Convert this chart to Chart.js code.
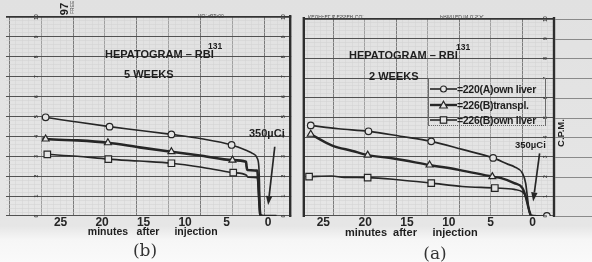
<!DOCTYPE html>
<html>
<head>
<meta charset="utf-8">
<script src="https://cdn.jsdelivr.net/npm/chart.js@4.4.1/dist/chart.umd.min.js"></script>
<style>
html,body{margin:0;padding:0;background:#fafafa;}
#page{position:relative;width:592px;height:262px;overflow:hidden;
  background:linear-gradient(#e1e1e1 0px,#e6e6e6 226px,#f6f6f6 240px,#fafafa 262px);
  font-family:"Liberation Sans",Arial,sans-serif;color:#1e1e1e;}
canvas{position:absolute;top:0;}
.t{position:absolute;white-space:nowrap;font-weight:bold;line-height:1;transform:translate(0,-50%);}
.c{position:absolute;white-space:nowrap;font-weight:bold;line-height:1;transform:translate(-50%,-50%);}
.tiny{position:absolute;white-space:nowrap;font-size:5px;color:#444;line-height:1;}
.cap{position:absolute;font-family:"DejaVu Serif","Liberation Serif",serif;font-size:17px;color:#333;transform:translate(-50%,-50%);line-height:1;}
#legend{position:absolute;left:428px;top:78px;width:116px;height:46px;border:1px solid #6a6a6a;border-bottom-style:dotted;}
#legend .row{position:absolute;left:1px;height:12px;display:flex;align-items:center;font-weight:bold;font-size:10.5px;letter-spacing:-0.3px;}
#legend svg{width:27px;height:10px;margin-right:0;}
</style>
</head>
<body>
<div id="page">
  <canvas id="left" width="297" height="240" style="left:0"></canvas>
  <canvas id="right" width="295" height="240" style="left:297px"></canvas>

  <div class="c" style="left:64px;top:9px;font-size:11px;transform:translate(-50%,-50%) rotate(-90deg)">97</div>
  <div class="tiny" style="left:70px;top:4px;transform:rotate(-90deg) translate(-10px,0);transform-origin:left top">FREE LEFT</div>
  <div class="tiny" style="left:198px;top:13px;transform:scaleY(-1)">NO. 422-00</div>
  <div class="tiny" style="left:308px;top:14px;transform:scaleY(-1)">KEUFFEL &amp; ESSER CO.</div>
  <div class="tiny" style="left:440px;top:14px;transform:scaleY(-1)">PRINTED IN U.S.A.</div>

  <div class="t" style="left:105px;top:54px;font-size:11px">HEPATOGRAM – RBI</div>
  <div class="t" style="left:208px;top:46px;font-size:8.5px">131</div>
  <div class="t" style="left:124px;top:74px;font-size:11px">5 WEEKS</div>

  <div class="t" style="left:349px;top:55px;font-size:11px">HEPATOGRAM – RBI</div>
  <div class="t" style="left:456px;top:47px;font-size:8.5px">131</div>
  <div class="t" style="left:369px;top:76px;font-size:11px">2 WEEKS</div>

  <div id="legend"></div>

  <div class="t" style="left:249px;top:133px;font-size:11px">350µCi</div>
  <div class="t" style="left:515px;top:145px;font-size:9.5px">350µCi</div>
  <div class="c" style="left:561px;top:133px;font-size:9.5px;transform:translate(-50%,-50%) rotate(-90deg)">C.P.M.</div>

  <div class="c" style="left:108px;top:231px;font-size:10.5px">minutes</div>
  <div class="c" style="left:148px;top:231px;font-size:10.5px">after</div>
  <div class="c" style="left:196px;top:231px;font-size:10.5px">injection</div>
  <div class="c" style="left:366px;top:232px;font-size:11px">minutes</div>
  <div class="c" style="left:405px;top:232px;font-size:11px">after</div>
  <div class="c" style="left:455px;top:232px;font-size:11px">injection</div>

  <div class="cap" style="left:145px;top:250px">(b)</div>
  <div class="cap" style="left:435px;top:253px">(a)</div>
</div>

<script>
// ----- data: minutes after injection vs counts (C.P.M.) -----
const X_TICKS = [25, 20, 15, 10, 5, 0];
const SERIES = ['220(A)own liver', '226(B)transpl.', '226(B)own liver'];

// (b) 5 weeks
const W5_A_MIN  = [27.2, 26.8, 23.0, 19.1, 15.4, 11.65, 8.0, 4.4, 2.66, 1.89, 1.31, 1.12, 1.04, 1.0, 0.93, 0.5, -1.0];
const W5_A_CPM  = [5.0, 4.96, 4.72, 4.49, 4.3, 4.1, 3.88, 3.57, 3.3, 3.15, 2.9, 2.48, 1.64, 0.8, 0.05, 0.0, 0.0];
const W5_A_MARK = [1, 3, 5, 7];
const W5_BT_MIN  = [27.2, 26.8, 23.0, 19.3, 15.5, 11.65, 8.0, 4.3, 2.66, 2.6, 2.5, 1.31, 1.2, 1.1, 1.0, 0.93, 0.5, -1.0];
const W5_BT_CPM  = [3.9, 3.87, 3.8, 3.68, 3.45, 3.23, 3.03, 2.81, 2.73, 2.5, 2.31, 2.28, 1.8, 1.0, 0.3, 0.05, 0.0, 0.0];
const W5_BT_MARK = [1, 3, 5, 7];
const W5_BO_MIN  = [26.6, 23.0, 19.25, 15.5, 11.65, 8.0, 4.2, 2.6, 2.5, 2.4, 1.3, 1.2, 1.1, 1.0];
const W5_BO_CPM  = [3.1, 3.0, 2.86, 2.76, 2.65, 2.45, 2.18, 2.05, 1.97, 1.95, 1.93, 1.5, 0.7, 0.05];
const W5_BO_MARK = [0, 2, 4, 6];

// (a) 2 weeks
const W2_A_MIN  = [26.5, 23.2, 19.6, 15.8, 12.1, 8.4, 4.7, 2.9, 2.18, 1.2, 0.82, 0.62, 0.43, 0.23, -1.72];
const W2_A_CPM  = [4.6, 4.43, 4.3, 4.05, 3.79, 3.38, 2.95, 2.62, 2.5, 2.17, 1.67, 1.0, 0.33, 0.05, 0.0];
const W2_A_MARK = [0, 2, 4, 6, 14];
const W2_BT_MIN  = [26.5, 24.0, 21.5, 19.7, 16.6, 12.3, 8.8, 4.8, 3.74, 2.18, 1.2, 0.82, 0.43, 0.23];
const W2_BT_CPM  = [4.15, 3.59, 3.3, 3.09, 2.92, 2.59, 2.34, 2.0, 1.92, 1.67, 1.42, 1.0, 0.33, 0.05];
const W2_BT_MARK = [0, 3, 5, 7];
const W2_BO_MIN  = [26.7, 24.0, 22.5, 19.7, 15.8, 12.1, 8.4, 4.5, 2.18, 1.2, 0.82, 0.43, 0.23];
const W2_BO_CPM  = [2.0, 2.03, 1.96, 1.95, 1.83, 1.67, 1.5, 1.42, 1.35, 1.22, 1.0, 0.33, 0.05];
const W2_BO_MARK = [0, 3, 5, 7];

const INK = '#262626';
const PAPER = '#e4e4e4';
const FONT = '"Liberation Sans", Arial, sans-serif';
const near = v => Math.abs(v - Math.round(v)) < 1e-6;

// paper borders, right-hand line extensions, printed scale numbers
Chart.register({
  id: 'paper',
  afterDraw(chart, args, o) {
    const {ctx, chartArea: a} = chart;
    const y = chart.scales.y;
    ctx.save();
    ctx.strokeStyle = '#2e2e2e';
    ctx.lineWidth = 2.4;
    (o.borders || []).forEach(side => {
      const bx = side === 'left' ? a.left + 1 : a.right - 1;
      ctx.beginPath(); ctx.moveTo(bx, a.top - 2); ctx.lineTo(bx, a.bottom + 1); ctx.stroke();
    });
    if (o.extend) {
      ctx.strokeStyle = '#8a8a8a'; ctx.lineWidth = 1;
      for (let v = 0; v <= 10; v++) {
        const py = Math.round(y.getPixelForValue(v)) + 0.5;
        ctx.beginPath(); ctx.moveTo(a.right, py); ctx.lineTo(chart.width, py); ctx.stroke();
      }
    }
    ctx.fillStyle = '#3a3a3a';
    ctx.font = 'bold 5px ' + FONT;
    ctx.textAlign = 'center'; ctx.textBaseline = 'middle';
    (o.nums || []).forEach(f => {
      const nx = a.left + f * (a.right - a.left);
      for (let v = 0; v <= 10; v++) {
        ctx.save();
        ctx.translate(nx, y.getPixelForValue(v));
        ctx.rotate(-Math.PI / 2);
        ctx.fillText(String(v), 0, 0);
        ctx.restore();
      }
    });
    ctx.restore();
  }
});

// injection arrow ("350µCi")
Chart.register({
  id: 'arrow',
  afterDraw(chart, args, o) {
    if (!o.from) return;
    const {ctx} = chart, xs = chart.scales.x, ys = chart.scales.y;
    const x1 = xs.getPixelForValue(o.from[0]), y1 = ys.getPixelForValue(o.from[1]);
    const x2 = xs.getPixelForValue(o.to[0]), y2 = ys.getPixelForValue(o.to[1]);
    const len = Math.hypot(x2 - x1, y2 - y1), ux = (x2 - x1) / len, uy = (y2 - y1) / len;
    const hl = 9, hw = 3.2;
    ctx.save();
    ctx.strokeStyle = INK; ctx.fillStyle = INK; ctx.lineWidth = 1.7;
    ctx.beginPath(); ctx.moveTo(x1, y1); ctx.lineTo(x2 - ux * hl, y2 - uy * hl); ctx.stroke();
    ctx.beginPath();
    ctx.moveTo(x2, y2);
    ctx.lineTo(x2 - ux * hl - uy * hw, y2 - uy * hl + ux * hw);
    ctx.lineTo(x2 - ux * hl + uy * hw, y2 - uy * hl - ux * hw);
    ctx.closePath(); ctx.fill();
    ctx.restore();
  }
});

function series(label, mins, cpms, marks, style, width, radius) {
  return {
    label,
    xAxisID: 'x',
    yAxisID: 'y',
    data: mins.map((m, i) => ({x: m, y: cpms[i]})),
    borderColor: INK,
    borderWidth: width,
    cubicInterpolationMode: 'monotone',
    pointStyle: style,
    pointRadius: c => marks.includes(c.dataIndex) ? radius : 0,
    pointBackgroundColor: PAPER,
    pointBorderColor: INK,
    pointBorderWidth: 1.2,
    fill: false
  };
}

function panel(id, p, datasets) {
  return new Chart(document.getElementById(id), {
    type: 'line',
    data: {datasets},
    options: {
      responsive: false, animation: false, events: [], devicePixelRatio: 1,
      layout: {padding: {top: p.top, right: p.right, left: 0, bottom: 0}},
      plugins: {legend: {display: false}, tooltip: {enabled: false}, paper: p.paper, arrow: p.arrow},
      scales: {
        px: {
          type: 'linear', position: 'bottom', min: p.pxMin, max: p.pxMax,
          ticks: {display: false}, border: {display: false},
          grid: {
            drawTicks: false,
            color: c => c.tick.value % 10 === 0 ? '#7a7a7a' : c.tick.value % 5 === 0 ? '#a0a0a0' : '#d3d3d3',
            lineWidth: c => c.tick.value % 5 === 0 ? 1 : 0.5
          },
          afterBuildTicks: s => { s.ticks = []; for (let v = Math.ceil(s.min); v <= s.max; v++) s.ticks.push({value: v}); },
          afterFit: s => { s.height = 0; }
        },
        x: {
          type: 'linear', position: 'bottom', min: p.xMin, max: p.xMax, reverse: true,
          grid: {display: false}, border: {display: false},
          ticks: {color: INK, font: {family: FONT, size: 12, weight: 'bold'}, padding: -9, maxRotation: 0, autoSkip: false},
          afterBuildTicks: s => { s.ticks = X_TICKS.map(v => ({value: v})); },
          afterFit: s => { s.height = p.axisH; }
        },
        y: {
          type: 'linear', min: 0, max: 10,
          ticks: {display: false}, border: {display: false},
          grid: {
            drawTicks: false,
            color: c => !near(c.tick.value) ? '#d0d0d0' : c.tick.value === 10 ? '#333' : '#525252',
            lineWidth: c => !near(c.tick.value) ? 0.5 : c.tick.value === 10 ? 1.8 : 1.1
          },
          afterBuildTicks: s => { s.ticks = []; for (let k = 0; k <= 50; k++) s.ticks.push({value: k / 5}); },
          afterFit: s => { s.width = 0; }
        }
      }
    }
  });
}

// (b) 5 weeks
panel('left', {
  top: 17, right: 0, axisH: 24, xMin: -2.78, xMax: 31.6, pxMin: -10.54, pxMax: 34.19,
  paper: {borders: ['right'], nums: [0.108, 0.973]},
  arrow: {from: [-0.8, 3.48], to: [0.0, 0.55]}
}, [
  series(SERIES[0], W5_A_MIN, W5_A_CPM, W5_A_MARK, 'circle', 1.6, 3.3),
  series(SERIES[1], W5_BT_MIN, W5_BT_CPM, W5_BT_MARK, 'triangle', 2.6, 4),
  series(SERIES[2], W5_BO_MIN, W5_BO_CPM, W5_BO_MARK, 'rect', 1.6, 4.6)
]);

// (a) 2 weeks
panel('right', {
  top: 19, right: 37, axisH: 24, xMin: -2.69, xMax: 27.45, pxMin: -4.8, pxMax: 35.14,
  paper: {borders: ['left', 'right'], extend: true, nums: [0.961]},
  arrow: {from: [-0.85, 3.18], to: [-0.08, 0.74]}
}, [
  series(SERIES[0], W2_A_MIN, W2_A_CPM, W2_A_MARK, 'circle', 1.7, 3.3),
  series(SERIES[1], W2_BT_MIN, W2_BT_CPM, W2_BT_MARK, 'triangle', 2.4, 4),
  series(SERIES[2], W2_BO_MIN, W2_BO_CPM, W2_BO_MARK, 'rect', 1.6, 4.6)
]);

// legend inside the 2-week panel
const SYMBOLS = [
  '<circle cx="13.5" cy="5" r="3" fill="#e4e4e4" stroke="#262626" stroke-width="1.2"/>',
  '<polygon points="13.5,1.2 17.3,8 9.7,8" fill="#e4e4e4" stroke="#262626" stroke-width="1.2"/>',
  '<rect x="10.3" y="1.8" width="6.4" height="6.4" fill="#e4e4e4" stroke="#262626" stroke-width="1.2"/>'
];
const LEGEND_WIDTHS = [1.6, 2.4, 1.6];
document.getElementById('legend').innerHTML = SERIES.map((s, i) => `
  <div class="row" style="top:${4 + i * 15.5}px">
    <svg viewBox="0 0 27 10"><line x1="0" y1="5" x2="27" y2="5" stroke="#262626" stroke-width="${LEGEND_WIDTHS[i]}"/>${SYMBOLS[i]}</svg>
    <span>=${s}</span>
  </div>`).join('');
</script>
</body>
</html>
